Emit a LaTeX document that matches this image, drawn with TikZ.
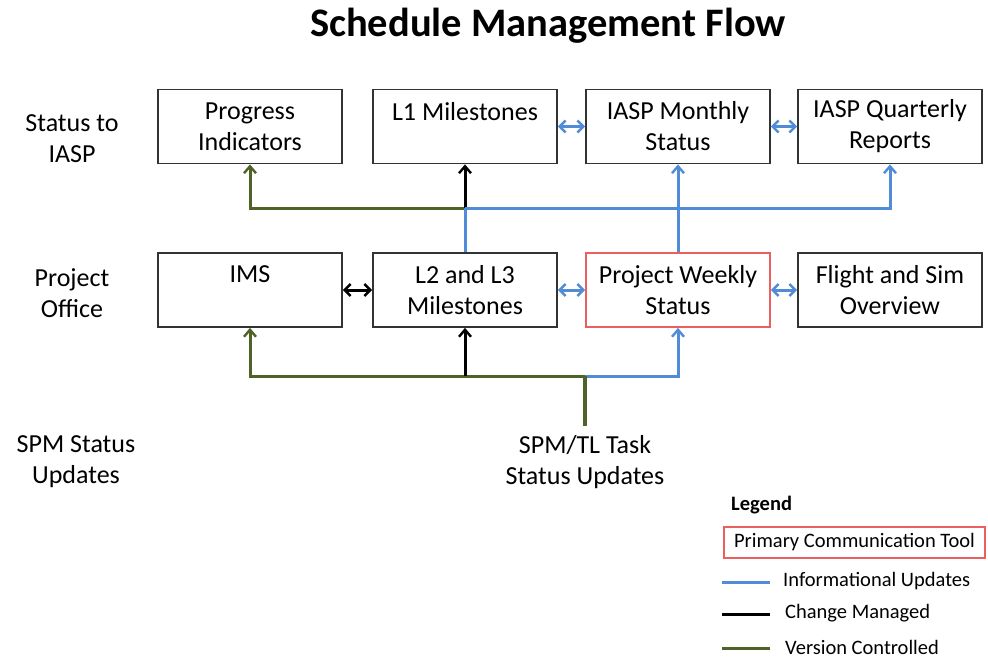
\documentclass[tikz,border=0pt]{standalone}
\usepackage{fontspec}
\setmainfont{Carlito}
\usetikzlibrary{arrows.meta}
\definecolor{infoblue}{RGB}{80,140,215}
\definecolor{vgreen}{RGB}{79,98,40}
\definecolor{pred}{RGB}{235,95,95}
\begin{document}
\begin{tikzpicture}[x=1pt,y=-1pt,
  box/.style={draw=black!80, line width=1.8pt, minimum width=184pt, minimum height=74pt, align=center, font=\fontsize{26}{31}\selectfont, inner sep=0pt},
  rowlabel/.style={align=center, font=\fontsize{26}{31}\selectfont},
  conn/.style={line width=3pt, -{Straight Barb[length=7pt,width=12pt,line width=2.4pt]}},
  dbl/.style={line width=3pt, {Straight Barb[length=6pt,width=12pt,line width=2.4pt]}-{Straight Barb[length=6pt,width=12pt,line width=2.4pt]}},
  legtext/.style={anchor=west, font=\fontsize{20.5}{24}\selectfont, inner sep=0pt}
]
\useasboundingbox (0,0) rectangle (988,658);
\node[font=\bfseries\fontsize{40.5}{44}\selectfont] (title) at (548,26) {Schedule Management Flow};

% row labels
\node[rowlabel] (r1) at (72,139) {Status to\\IASP};
\node[rowlabel] (r2) at (72,293) {Project\\Office};
\node[rowlabel] (r3) at (76,462) {SPM Status\\Updates};

% row 1
\node[box] (pi) at (250,126.5) {Progress\\Indicators};
\node[box] (l1) at (465,126.5) {L1 Milestones\\\mbox{}};
\node[box] (ms) at (678,126.5) {IASP Monthly\\Status};
\node[box] (qr) at (890,126.5) {IASP Quarterly\\Reports};
% row 2
\node[box] (ims) at (250,290) {IMS\\\mbox{}};
\node[box] (l23) at (465,290) {L2 and L3\\Milestones};
\node[box, draw=pred] (pws) at (678,290) {Project Weekly\\Status};
\node[box] (fs) at (890,290) {Flight and Sim\\Overview};

\node[rowlabel] (spm) at (585,462) {SPM/TL Task\\Status Updates};

\coordinate (j1) at (465,208);
\coordinate (j2) at (585,376);
\coordinate (src) at (585,426);

% top connectors
\draw[conn, vgreen] (j1) -| (pi.south);
\draw[conn, black] (j1) -- (l1.south);
\draw[line width=3pt, infoblue] (l23.north) -- (j1);
\draw[conn, infoblue] (j1) -| (qr.south);
\draw[conn, infoblue] (pws.north) -- (ms.south);

% bottom connectors
\draw[conn, vgreen] (j2) -| (ims.south);
\draw[conn, black] (l23.south |- j2) -- (l23.south);
\draw[conn, infoblue] (j2) -| (pws.south);
\draw[line width=4pt, vgreen] (src) -- (j2);

% horizontal double arrows
\draw[dbl, infoblue] (l1.east) -- (ms.west);
\draw[dbl, infoblue] (ms.east) -- (qr.west);
\draw[dbl, black] (ims.east) -- (l23.west);
\draw[dbl, infoblue] (l23.east) -- (pws.west);
\draw[dbl, infoblue] (pws.east) -- (fs.west);

% legend
\node[anchor=west, font=\bfseries\fontsize{20.5}{24}\selectfont, inner sep=0pt] (legt) at (731,505) {Legend};
\node[draw=pred, line width=1.6pt, minimum width=261pt, minimum height=31pt, inner sep=0pt, font=\fontsize{20.5}{24}\selectfont] (legbox) at (854.5,542.5) {Primary Communication Tool};
\coordinate (la1) at (722,582); \coordinate (lb1) at (770,582);
\coordinate (la2) at (722,614); \coordinate (lb2) at (770,614);
\coordinate (la3) at (722,648); \coordinate (lb3) at (770,648);
\draw[line width=3pt, infoblue] (la1) -- (lb1);
\draw[line width=3pt, black] (la2) -- (lb2);
\draw[line width=3pt, vgreen] (la3) -- (lb3);
\node[legtext] (lt1) at (783,581) {Informational Updates};
\node[legtext] (lt2) at (785,613) {Change Managed};
\node[legtext] (lt3) at (785,647) {Version Controlled};
\end{tikzpicture}
\end{document}
